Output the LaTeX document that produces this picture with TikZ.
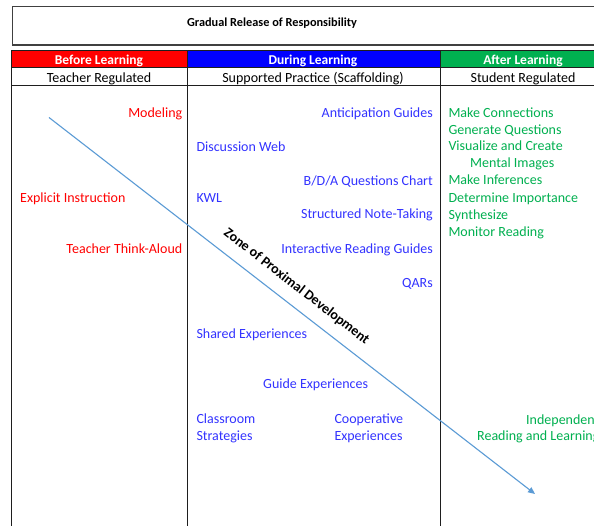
\documentclass[tikz,border=0pt]{standalone}
\usepackage{fontspec}
\setmainfont{Carlito}
\usetikzlibrary{arrows.meta}
\definecolor{tred}{RGB}{255,0,0}
\definecolor{tblue}{RGB}{51,51,255}
\definecolor{tgreen}{RGB}{0,176,80}
\definecolor{hblue}{RGB}{0,0,255}
\definecolor{arrowblue}{RGB}{91,155,213}
\definecolor{gridc}{RGB}{30,30,30}
\tikzset{
  txt/.style={inner sep=0pt, yshift=-2.5pt, font=\fontsize{14}{16}\selectfont},
  redt/.style={txt, text=tred},
  bluet/.style={txt, text=tblue},
  greent/.style={txt, text=tgreen},
  hdr/.style={txt, text=white, font=\fontsize{13.5}{15}\selectfont\bfseries},
  sub/.style={txt, text=black},
  gridline/.style={draw=gridc, line width=1pt},
}
\begin{document}
\begin{tikzpicture}[x=1pt,y=-1pt]
\useasboundingbox (0,0) rectangle (594,526);
\clip (0,0) rectangle (594,526);
\fill[white] (0,0) rectangle (594,526);
% title box
\draw[draw=black!75, line width=1.2pt] (12.5,6.5) rectangle (620,45);
\node[txt, font=\fontsize{12.3}{14}\selectfont\bfseries] (title) at (272,20.5) {Gradual Release of Responsibility};
% header fills
\fill[tred] (11,50.5) rectangle (187.5,68);
\fill[hblue] (187.5,50.5) rectangle (440,68);
\fill[tgreen] (440,50.5) rectangle (620,68);
% grid
\draw[gridline] (11,50.5) -- (620,50.5);
\draw[gridline] (11,68) -- (620,68);
\draw[gridline] (11,86) -- (620,86);
\draw[gridline] (11,50.5) -- (11,540);
\draw[gridline] (187.5,50.5) -- (187.5,540);
\draw[gridline] (440,50.5) -- (440,540);
% headers
\node[hdr] (h1) at (99,58.5) {Before Learning};
\node[hdr] (h2) at (313,58.5) {During Learning};
\node[hdr] (h3) at (523,58.5) {After Learning};
\node[sub] (s1) at (99,76.5) {Teacher Regulated};
\node[sub] (s2) at (313,76.5) {Supported Practice (Scaffolding)};
\node[sub] (s3) at (523,76.5) {Student Regulated};
% arrow
\coordinate (astart) at (49,117.5);
\coordinate (aend) at (535,494);
\draw[arrowblue, line width=1.1pt, -{Triangle[length=7pt,width=6pt]}] (astart) -- (aend);
\node[inner sep=0pt, font=\fontsize{14}{16}\selectfont\bfseries, rotate=-37.8] (zpd) at (296.5,286.5) {Zone of Proximal Development};
% before learning
\node[redt, anchor=mid east] (modeling) at (182.5,112.3) {Modeling};
\node[redt, anchor=mid west] (explicit) at (20,197.7) {Explicit Instruction};
\node[redt, anchor=mid east] (thinkaloud) at (182.5,249) {Teacher Think-Aloud};
% during learning
\node[bluet, anchor=mid east] (antic) at (433,112.3) {Anticipation Guides};
\node[bluet, anchor=mid west] (discweb) at (196.3,146.7) {Discussion Web};
\node[bluet, anchor=mid east] (bda) at (433,180.7) {B/D/A Questions Chart};
\node[bluet, anchor=mid west] (kwl) at (196.3,197.7) {KWL};
\node[bluet, anchor=mid east] (snt) at (433,214) {Structured Note-Taking};
\node[bluet, anchor=mid east] (irg) at (433,249) {Interactive Reading Guides};
\node[bluet, anchor=mid east] (qar) at (433,282.7) {QARs};
\node[bluet, anchor=mid west] (shared) at (196.3,334) {Shared Experiences};
\node[bluet, anchor=mid west] (guide) at (263,384) {Guide Experiences};
\node[bluet, anchor=mid west] (class1) at (196.3,419) {Classroom};
\node[bluet, anchor=mid west] (class2) at (196.3,436) {Strategies};
\node[bluet, anchor=mid west] (coop1) at (334.3,419) {Cooperative};
\node[bluet, anchor=mid west] (coop2) at (334.3,436) {Experiences};
% after learning
\node[greent, anchor=mid west] (mc) at (448.3,112.7) {Make Connections};
\node[greent, anchor=mid west] (gq) at (448.3,129.3) {Generate Questions};
\node[greent, anchor=mid west] (vc) at (448.3,146) {Visualize and Create};
\node[greent, anchor=mid west] (mi) at (470,162.5) {Mental Images};
\node[greent, anchor=mid west] (minf) at (448.3,180) {Make Inferences};
\node[greent, anchor=mid west] (di) at (448.3,197.7) {Determine Importance};
\node[greent, anchor=mid west] (syn) at (448.3,214.3) {Synthesize};
\node[greent, anchor=mid west] (mr) at (448.3,231.3) {Monitor Reading};
\node[greent, anchor=mid west] (ind1) at (526,420) {Independent};
\node[greent, anchor=mid west] (ind2) at (477,435.5) {Reading and Learning};
\end{tikzpicture}
\end{document}
